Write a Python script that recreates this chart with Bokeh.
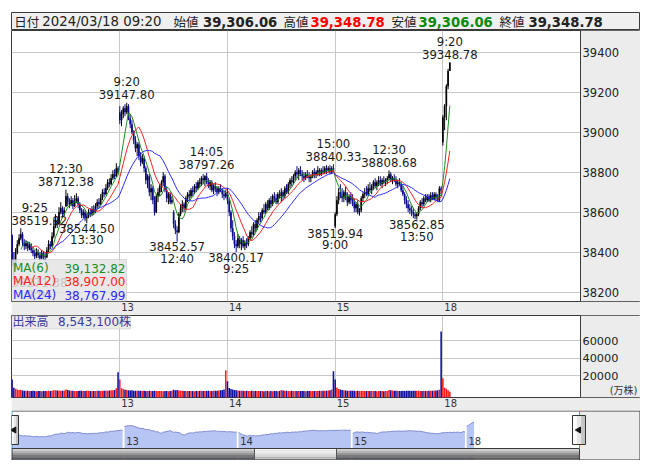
from bokeh.plotting import figure
from bokeh.models import Range1d, FixedTicker, BoxAnnotation, Label, ColumnDataSource
from bokeh.layouts import column
from bokeh.embed import file_html
from bokeh.resources import INLINE
from bokeh.core.properties import value

# ---------------- data (5-minute bars) ----------------
day_labels = ["13", "14", "15", "18"]
prev_close = 38820.49

o12 = [38483,38350,38330,38400,38440,38470,38490,38450,38430,38445,38420,38435,38410,38395,38380,38400,38385,38370,38395,38380,38375,38410,38440,38430,38480,38530,38560,38540,38600,38620,38590,38630,38680,38650,38640,38660,38630,38655,38670,38640,38610,38585,38600,38570,38580,38600,38590,38615,38600,38630,38650,38640,38670,38700,38690,38720,38750,38740,38770,38790,38780,38820]
h12 = [38490,38400,38420,38460,38490,38519.92,38500,38465,38460,38455,38450,38445,38425,38410,38420,38415,38400,38410,38405,38400,38425,38460,38455,38500,38560,38590,38575,38625,38650,38630,38625,38712.38,38695,38670,38680,38670,38685,38695,38680,38650,38620,38615,38610,38595,38615,38620,38630,38635,38645,38665,38670,38690,38715,38720,38740,38765,38770,38790,38810,38815,38845,38830]
l12 = [38330,38271.38,38310,38390,38430,38460,38430,38410,38415,38405,38410,38395,38380,38365,38370,38370,38360,38365,38362,38358,38370,38400,38415,38425,38470,38520,38520,38535,38590,38570,38580,38625,38630,38620,38630,38615,38625,38645,38620,38595,38570,38570,38555,38544.50,38570,38575,38580,38585,38595,38620,38625,38635,38660,38675,38685,38710,38725,38735,38760,38765,38775,38790]
c12 = [38350,38330,38400,38440,38470,38490,38450,38430,38445,38420,38435,38410,38395,38380,38400,38385,38370,38395,38380,38375,38410,38440,38430,38480,38530,38560,38540,38600,38620,38590,38610,38680,38650,38640,38660,38630,38655,38670,38640,38610,38585,38600,38570,38580,38600,38590,38615,38600,38630,38650,38640,38670,38700,38690,38720,38750,38740,38770,38790,38780,38820,38797.51]

o13 = [39100,39060,39090,39120,39100,39130,39070,39040,39000,38960,38920,38940,38880,38850,38870,38820,38760,38780,38700,38720,38660,38600,38680,38700,38730,38750,38780,38710,38670,38690,38650,38600,38540,38510,38500,38590,38620,38640,38620,38670,38690,38680,38710,38700,38730,38720,38750,38740,38770,38760,38780,38750,38730,38750,38710,38730,38720,38700,38720,38710,38690,38680]
h13 = [39130,39110,39130,39140,39147.80,39140,39090,39060,39010,38980,38950,38950,38900,38890,38880,38830,38790,38790,38740,38730,38680,38690,38720,38740,38760,38800,38790,38730,38700,38700,38680,38610,38560,38530,38600,38640,38660,38650,38680,38700,38710,38720,38730,38740,38750,38760,38770,38780,38790,38785,38797.26,38770,38760,38760,38740,38750,38730,38730,38740,38720,38710,38710]
l13 = [39040,39030,39070,39080,39090,39060,39020,38990,38940,38900,38880,38860,38830,38840,38800,38740,38720,38680,38660,38640,38583,38595,38650,38680,38700,38730,38700,38650,38640,38640,38640,38520,38490,38452.57,38495,38580,38600,38600,38610,38650,38660,38670,38680,38690,38700,38710,38720,38730,38740,38730,38740,38720,38710,38700,38690,38700,38680,38690,38700,38670,38660,38670]
c13 = [39060,39090,39120,39100,39130,39070,39040,39000,38960,38920,38940,38880,38850,38870,38820,38760,38780,38700,38720,38660,38600,38680,38700,38730,38750,38780,38710,38670,38690,38650,38660,38540,38510,38500,38590,38620,38640,38620,38670,38690,38680,38710,38700,38730,38720,38750,38740,38770,38760,38780,38750,38730,38750,38710,38730,38720,38700,38720,38710,38690,38680,38695.97]

o14 = [38700,38660,38600,38520,38480,38440,38430,38470,38440,38460,38430,38450,38440,38470,38500,38490,38540,38520,38560,38580,38570,38610,38600,38640,38620,38660,38640,38680,38670,38650,38690,38680,38700,38680,38720,38700,38740,38760,38750,38780,38800,38790,38810,38790,38780,38770,38790,38780,38770,38780,38800,38790,38800,38810,38790,38810,38800,38820,38810,38820,38800,38820]
h14 = [38720,38670,38610,38560,38500,38460,38490,38480,38470,38480,38460,38470,38480,38510,38530,38550,38560,38570,38600,38600,38620,38640,38650,38660,38670,38680,38690,38700,38690,38700,38710,38720,38710,38730,38740,38750,38770,38780,38790,38810,38830,38820,38830,38810,38800,38800,38810,38800,38790,38810,38820,38810,38830,38820,38820,38830,38830,38835,38830,38835,38830,38840.33]
l14 = [38640,38580,38500,38460,38420,38400.17,38420,38420,38410,38420,38410,38420,38430,38460,38470,38480,38500,38510,38540,38550,38560,38590,38590,38610,38610,38620,38630,38650,38640,38640,38670,38650,38660,38670,38690,38690,38720,38730,38740,38760,38770,38760,38780,38760,38750,38760,38770,38750,38750,38770,38770,38770,38780,38780,38780,38790,38790,38790,38800,38790,38790,38800]
c14 = [38660,38600,38520,38480,38440,38430,38470,38440,38460,38430,38450,38440,38470,38500,38490,38540,38520,38560,38580,38570,38610,38600,38640,38620,38660,38640,38680,38670,38650,38690,38680,38700,38680,38720,38700,38740,38760,38750,38780,38800,38790,38810,38790,38780,38770,38790,38780,38770,38780,38800,38790,38800,38810,38790,38810,38800,38820,38810,38820,38800,38820,38807.38]

o15 = [38530,38590,38660,38700,38690,38670,38700,38680,38650,38680,38660,38650,38620,38640,38600,38610,38670,38690,38700,38690,38720,38710,38730,38750,38730,38750,38760,38740,38760,38750,38760,38770,38790,38760,38770,38760,38740,38750,38740,38710,38690,38660,38640,38620,38610,38600,38590,38580,38590,38620,38650,38640,38670,38660,38680,38660,38685,38665,38690,38670,38660,38720]
h15 = [38600,38680,38720,38740,38720,38710,38730,38700,38690,38700,38690,38670,38650,38660,38620,38680,38700,38720,38730,38740,38750,38740,38760,38770,38760,38780,38780,38770,38780,38770,38780,38808.68,38800,38780,38790,38780,38760,38770,38750,38730,38700,38680,38660,38640,38630,38620,38600,38600,38630,38660,38670,38680,38690,38690,38690,38700,38700,38700,38700,38690,38730,38730]
l15 = [38519.94,38580,38640,38670,38650,38650,38660,38630,38640,38640,38630,38600,38600,38590,38583,38600,38650,38670,38680,38680,38700,38690,38710,38720,38710,38730,38730,38720,38740,38730,38740,38760,38750,38740,38750,38730,38720,38730,38700,38680,38640,38620,38600,38590,38580,38570,38565,38562.85,38580,38610,38620,38630,38650,38650,38650,38650,38660,38660,38660,38650,38650,38690]
c15 = [38590,38660,38700,38690,38670,38700,38680,38650,38680,38660,38650,38620,38640,38600,38610,38670,38690,38700,38690,38720,38710,38730,38750,38730,38750,38760,38740,38760,38750,38760,38770,38790,38760,38770,38760,38740,38750,38740,38710,38690,38660,38640,38620,38610,38600,38590,38580,38590,38620,38650,38640,38670,38660,38680,38657.76,38685,38665,38690,38670,38657.08,38720,38707.64]

o18 = [38950, 39075, 39130, 39229.44, 39306.06]
h18 = [39085, 39140, 39240, 39317, 39348.78]
l18 = [38933, 39010, 39060, 39215, 39306.06]
c18 = [39075, 39130, 39229.44, 39306.06, 39348.78]

v12 = [15600,6100,5000,4000,3600,3800,3000,2800,2600,2700,2500,2400,2600,2300,2200,2400,2300,2200,2500,2300,2400,2600,2400,2800,3400,3200,3000,3000,2800,2600,2900,4200,3600,3000,2800,2600,2500,2400,2500,2700,2600,2400,2500,2800,2600,2400,2300,2500,2400,2600,2700,2500,2800,2600,2900,2700,3000,3200,3400,3600,5600,24000]
v13 = [15600,5500,4600,3800,3600,3400,3000,3200,2800,2700,2600,2800,2600,2500,2600,2400,2500,2700,2500,2300,2600,2400,2300,2500,2400,2200,2400,2300,2200,2300,2600,3800,3400,3600,3000,2700,2600,2400,2500,2300,2400,2500,2300,2200,2400,2300,2500,2600,2400,2300,2500,2600,2400,2500,2700,2600,2800,2900,3200,3500,4200,26300]
v14 = [13700,5800,4800,4200,3600,3300,3000,2800,2700,2600,2500,2700,2500,2400,2600,2400,2300,2500,2400,2300,2400,2200,2400,2300,2200,2300,2200,2400,2300,2200,2500,3600,3000,2700,2600,2500,2400,2600,2500,2400,2300,2500,2400,2300,2400,2200,2300,2500,2400,2300,2400,2500,2400,2600,2500,2700,2600,2800,3000,3300,4000,25200]
v15 = [15600,6500,4600,4000,3500,3200,3000,2800,2700,2600,2800,2600,2500,2700,2500,2400,2600,2500,2400,2300,2400,2500,2400,2300,2200,2300,2400,2300,2200,2300,2400,3600,3200,3000,2800,2700,2600,2500,2400,2600,2500,2700,2800,2600,2500,2700,2600,2800,2600,2500,2400,2600,2500,2400,2600,2700,2800,2900,3100,3400,3800,70800]
v18 = [17100,6100,5100,3400,1500]

# swing high / low annotations (bar index, kind)
ann_bars = [1, 5, 31, 43, 66, 95, 112, 129, 185, 186, 217, 233, 252]
ann_kind = ["L", "H", "H", "L", "H", "L", "H", "L", "H", "L", "H", "L", "H"]
vol_title = "出来高"
vol_total = "8,543,100株"
vol_unit = "(万株)"
header_date = "2024/03/18 09:20"

# label nudges (pixels) keeping the first labels inside the plot
ann_dx_val = [25.6, 18.6] + [0] * 11
ann_dx_time = [25.6, 14] + [0] * 11

# ---------------- assemble ----------------
days_o = [o12, o13, o14, o15, o18]
days_h = [h12, h13, h14, h15, h18]
days_l = [l12, l13, l14, l15, l18]
days_c = [c12, c13, c14, c15, c18]
days_v = [v12, v13, v14, v15, v18]
opens = sum(days_o, []); highs = sum(days_h, []); lows = sum(days_l, []); closes = sum(days_c, []); vols = sum(days_v, [])
starts = []
s = 0
for d in days_c:
    starts.append(s); s += len(d)
N = len(closes)
idx = list(range(N))
day_starts = starts[1:]

def bar_time(i):
    k = i - max(st for st in starts if st <= i)
    m = 9 * 60 + 5 * k if k <= 30 else 12 * 60 + 30 + 5 * (k - 31)
    return f"{m // 60}:{m % 60:02d}"

def sma(v, n):
    return [float("nan") if i < n - 1 else sum(v[i - n + 1:i + 1]) / n for i in range(len(v))]

ma6, ma12, ma24 = sma(closes, 6), sma(closes, 12), sma(closes, 24)

FONT = "DejaVu Sans"
JFONT = "DejaVu Sans, Noto Sans CJK JP"
GRAY = "#ececec"
LINE = "#3a3a3a"
GRID = "#c8c8c8"
UP_C, DN_C = "#000000", "#0a0a8c"
VUP, VDN = "#ff1c1c", "#1010a0"
MA_COL = ["#1e8c1e", "#ff2020", "#2a2aff"]

FW = 629                 # frame width (page x 11 .. 640)
PX = 1.737               # pixels per bar in the main chart
X0 = -0.6 / PX
X1 = X0 + FW / PX
XSEP = X0 + 569 / PX     # price-axis separator (page x 580)
TICK_SHIFT = 4.5         # day labels sit just right of the day's grid line

def sbox(p, l, r, b, t, fill=None, alpha=1.0, line=LINE, level="annotation"):
    p.add_layout(BoxAnnotation(left=l, right=r, bottom=b, top=t,
                               left_units="screen", right_units="screen",
                               bottom_units="screen", top_units="screen",
                               fill_color=fill, fill_alpha=alpha if fill else 0.0,
                               line_color=line, line_width=1, level=level))

def slabel(p, x, y, text, color="#222", size="12px", align="left", font=JFONT):
    p.add_layout(Label(x=x, y=y, x_units="screen", y_units="screen", text=text,
                       text_color=color, text_font_size=size, text_align=align,
                       text_baseline="middle", text_font=font))

# ---------------- header ----------------
hdr = figure(frame_width=FW, frame_height=18, x_range=Range1d(0, FW), y_range=Range1d(0, 18),
             min_border=0, outline_line_color=LINE, background_fill_color="#efefef",
             border_fill_color="white", x_axis_type=None, y_axis_type=None,
             output_backend="svg", toolbar_location=None, margin=(12, 0, 0, 11))
hdr.grid.visible = False
lo, hi, lw, cl = opens[-1], highs[-1], lows[-1], closes[-1]
hdr.text(x=[2.8, 162, 272, 380, 488], y=[9] * 5, text=["日付", "始値", "高値", "安値", "終値"],
         text_font=value("Noto Sans CJK JP"), text_font_size="12.5px", text_color="#222",
         text_baseline="middle")
hdr.text(x=[30.8], y=[9], text=[header_date], text_font=value(FONT), text_font_size="13.3px",
         text_color="#222", text_baseline="middle")
hdr.text(x=[191.5, 299, 407, 517], y=[9] * 4,
         text=[f"{lo:,.2f}", f"{hi:,.2f}", f"{lw:,.2f}", f"{cl:,.2f}"],
         text_color=["#222", "#ff0000", "#0a8a0a", "#222"],
         text_font=value(FONT), text_font_style="bold", text_font_size="13.2px",
         text_baseline="middle")

# ---------------- price panel ----------------
def panel(fh, yr, bottom):
    f = figure(frame_width=FW, frame_height=fh, x_range=Range1d(X0, X1), y_range=yr,
               y_axis_location="right", min_border_left=0, min_border_right=0,
               min_border_top=0, min_border_bottom=bottom, border_fill_color=GRAY,
               background_fill_color="white", outline_line_color=LINE,
               output_backend="svg", toolbar_location=None, margin=(0, 0, 0, 11))
    return f

def style_axes(fig, yticks, ysize, fh, strip):
    for ax in (fig.xaxis, fig.yaxis):
        ax.major_tick_line_color = None
        ax.minor_tick_line_color = None
        ax.major_tick_out = 0
        ax.major_tick_in = 0
        ax.minor_tick_out = 0
        ax.minor_tick_in = 0
    fig.yaxis.fixed_location = XSEP
    fig.yaxis.ticker = FixedTicker(ticks=yticks)
    fig.yaxis.axis_line_color = LINE
    fig.yaxis.major_label_standoff = 2
    fig.yaxis.major_label_text_font = FONT
    fig.yaxis.major_label_text_font_size = ysize
    fig.yaxis.major_label_text_color = "#222"
    fig.ygrid.ticker = FixedTicker(ticks=yticks)
    fig.xaxis.ticker = FixedTicker(ticks=[d + TICK_SHIFT for d in day_starts])
    fig.xaxis.major_label_overrides = {d + TICK_SHIFT: lab for d, lab in zip(day_starts, day_labels)}
    fig.xaxis.major_label_standoff = 1
    fig.xaxis.axis_line_color = None
    fig.xaxis.major_label_text_font = FONT
    fig.xaxis.major_label_text_font_size = "10px"
    fig.xaxis.major_label_text_color = "#333"
    fig.xgrid.ticker = FixedTicker(ticks=day_starts)
    fig.grid.grid_line_color = GRID
    # gray axis area inside the frame, and the strip below
    sbox(fig, 569, FW, 0, fh, fill=GRAY, line=None, level="underlay")
    sbox(fig, 0, FW, -strip, 0)

p = panel(271, Range1d(38153.5, 39508.5), 14)
style_axes(p, [38200, 38400, 38600, 38800, 39000, 39200, 39400], "11.5px", 271, 14)

src = ColumnDataSource(dict(
    x=idx, h=highs, l=lows,
    top=[max(o, c) for o, c in zip(opens, closes)],
    bot=[min(o, c) for o, c in zip(opens, closes)],
    col=[UP_C if c >= o else DN_C for o, c in zip(opens, closes)]))
p.segment(x0="x", y0="l", x1="x", y1="h", line_color="col", line_width=1, source=src)
p.vbar(x="x", width=0.95, top="top", bottom="bot", fill_color="col", line_color=None, source=src)
for ma, col in zip([ma6, ma12, ma24], MA_COL):
    p.line(idx, ma, line_color=col, line_width=1)

vx, vy, vt, vo = [], [], [], []
tt, to = [], []
for b, k in zip(ann_bars, ann_kind):
    val = highs[b] if k == "H" else lows[b]
    vx.append(b); vy.append(val); vt.append(f"{val:.2f}"); vo.append(-8 if k == "H" else 5)
    tt.append(bar_time(b)); to.append(-20.5 if k == "H" else 17)
p.text(x=vx, y=vy, text=vt, y_offset=vo, x_offset=ann_dx_val, text_align="center",
       text_baseline="middle", text_font=value(FONT), text_font_size="11.7px", text_color="#1a1a1a")
p.text(x=vx, y=vy, text=tt, y_offset=to, x_offset=ann_dx_time, text_align="center",
       text_baseline="middle", text_font=value(FONT), text_font_size="11.7px", text_color="#1a1a1a")

# MA legend box
sbox(p, 0, 115, 0, 42, fill="#e4e4e4", alpha=0.84, line="#9a9a9a")
for (lab, ma, col, yy) in [("MA(6)", ma6, MA_COL[0], 33.5), ("MA(12)", ma12, MA_COL[1], 20.5),
                           ("MA(24)", ma24, MA_COL[2], 6.5)]:
    slabel(p, 1.5, yy, lab, color=col, size="12px", font=FONT)
    slabel(p, 114, yy, f"{ma[-1]:,.2f}", color=col, size="12px", align="right", font=FONT)

# ---------------- volume panel ----------------
V0, V1 = -5060, 89200
v = panel(82, Range1d(V0, V1), 13)
v.x_range = p.x_range
style_axes(v, [20000, 40000, 60000], "11.3px", 82, 13)
vcol = []
for i in range(N):
    pc = closes[i - 1] if i > 0 else prev_close
    vcol.append(VUP if closes[i] >= pc else VDN)
v.vbar(x=idx, width=0.9, top=vols, bottom=V0, fill_color=vcol, line_color=None)
v.text(x=[X1], y=[3000], text=[vol_unit], x_offset=-3, text_align="right", text_baseline="middle",
       text_font=value(JFONT), text_font_size="10px", text_color="#333")
sbox(v, 0, 119, 68.5, 82, fill="#e8e8e8", alpha=0.85, line="#a0a0a0")
slabel(v, 1, 75.3, vol_title, color="#3a3a9a", size="12px")
slabel(v, 46.5, 75.3, vol_total, color="#3a3a9a", size="12px")

# ---------------- navigator ----------------
NPX = 1.84
NX0 = (11 - 9.9) / NPX
NY0, NY1 = 36803.2, 40123.2
nav = figure(frame_width=FW, frame_height=50, x_range=Range1d(NX0, NX0 + FW / NPX),
             y_range=Range1d(NY0, NY1), min_border=0, outline_line_color=None,
             background_fill_color="white", border_fill_color="white",
             x_axis_type=None, y_axis_type=None, output_backend="svg",
             toolbar_location=None, margin=(0, 0, 0, 11))
nav.grid.visible = False
nav.extra_x_ranges = {"ux": Range1d(0, FW)}
nav.extra_y_ranges = {"uy": Range1d(0, 50)}
ends = starts[1:] + [N]
for st, en in zip(starts, ends):
    nav.varea(x=idx[st:en], y1=NY0, y2=closes[st:en], fill_color="#b7c5f5")
    nav.line(idx[st:en], closes[st:en], line_color="#7f8bd0", line_width=1)
nav.text(x=[d + 0.9 for d in day_starts], y=[20] * 4, text=day_labels, y_range_name="uy",
         text_font=value(FONT), text_font_size="10px", text_color="#333", text_baseline="middle")
U = dict(x_range_name="ux", y_range_name="uy")
nav.quad(left=568, right=FW, bottom=0, top=50, fill_color=GRAY, line_color=None, **U)
# scrollbar
stripes = ["#d2d2d2", "#b4b4b4", "#969696", "#787878", "#5a5a5a"]
lstripes = ["#fafafa", "#eeeeee", "#e2e2e2", "#d4d4d4", "#c6c6c6"]
for k in range(5):
    t = 12 - k * 2.2
    nav.quad(left=0, right=568, bottom=t - 2.2, top=t, fill_color=stripes[k], line_color=None, **U)
    nav.quad(left=243, right=325, bottom=t - 2.2, top=t, fill_color=lstripes[k], line_color=None, **U)
nav.segment(x0=[243, 325], y0=[1, 1], x1=[243, 325], y1=[12, 12], line_color="#555", **U)
# frame lines
nav.segment(x0=[0, 0, 0, 0.5, 628.5, 568], y0=[49.5, 12, 0.5, 0.5, 0.5, 0.5],
            x1=[FW, 568, FW, 0.5, 628.5, 568], y1=[49.5, 12, 0.5, 12, 49.5, 12],
            line_color=LINE, line_width=1, **U)
nav.segment(x0=[0.5, 568], y0=[12, 12], x1=[0.5, 568], y1=[49.5, 49.5], line_color="#2aa0e0", **U)
# handles
for (l, r, ax) in [(0, 7, 2.6), (561, 574, 567.3)]:
    w = (r - l) / 3
    for j, c in enumerate(["#fdfdfd", "#e6e6e6", "#c4c4c4"]):
        nav.quad(left=l + j * w, right=l + (j + 1) * w, bottom=16, top=45, fill_color=c, line_color=None, **U)
    nav.quad(left=l, right=r, bottom=16, top=45, fill_color=None, line_color="#333", **U)
    nav.scatter(x=[ax], y=[30.5], marker="triangle", angle=1.5708, size=6, fill_color="#111",
                line_color="#111", **U)

layout = column(hdr, p, v, nav, spacing=0)
open("out.html", "w").write(file_html(layout, INLINE))
